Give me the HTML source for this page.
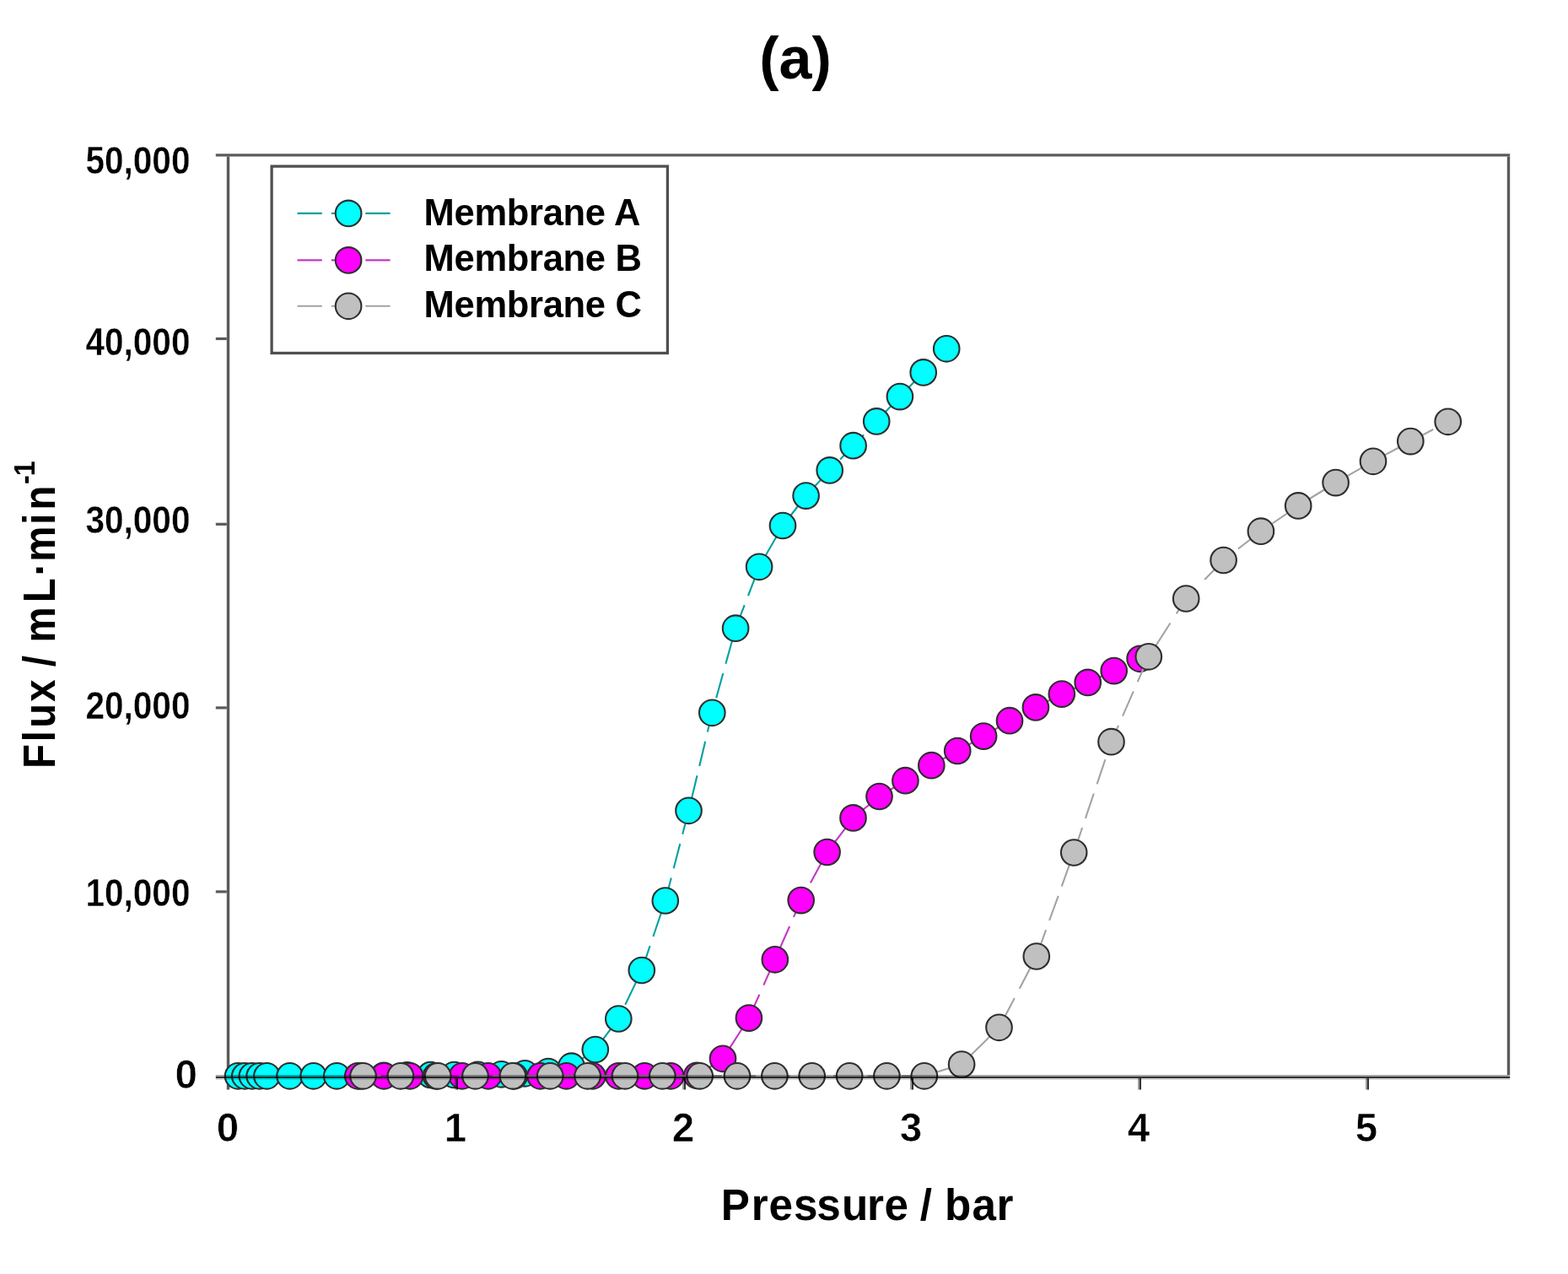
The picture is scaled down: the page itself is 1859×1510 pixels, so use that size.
<!DOCTYPE html>
<html lang="en"><head><meta charset="utf-8"><title>(a) Flux vs pressure</title>
<style>html,body{margin:0;padding:0;background:#fff;}body{width:1859px;height:1510px;overflow:hidden;}svg{display:block;}text{font-family:"Liberation Sans", sans-serif;font-weight:bold;fill:#000;}</style></head><body>
<svg width="1859" height="1510" viewBox="0 0 1859 1510" role="img" aria-label="Flux versus pressure for membranes A, B and C">
<rect x="0" y="0" width="1859" height="1510" fill="#ffffff"/>
<text x="943.1" y="93.3" font-size="70" text-anchor="middle">(a)</text>
<g id="frame" stroke="#5a5a5a" stroke-width="3.4" fill="none">
<line x1="255.8" y1="183.9" x2="1790.2" y2="183.9"/>
<line x1="270.5" y1="185.6" x2="270.5" y2="1291.6"/>
<line x1="1788.5" y1="185.6" x2="1788.5" y2="1274.0"/>
<line x1="255.8" y1="1056.9" x2="268.8" y2="1056.9" stroke-width="3.2"/>
<line x1="255.8" y1="838.9" x2="268.8" y2="838.9" stroke-width="3.2"/>
<line x1="255.8" y1="621.3" x2="268.8" y2="621.3" stroke-width="3.2"/>
<line x1="255.8" y1="401.5" x2="268.8" y2="401.5" stroke-width="3.2"/>
</g>
<g id="series-A">
<path fill="none" stroke="#00a0a0" stroke-width="2.1" d="M282.1 1275.3L290.3 1275.3M290.3 1275.3L298.9 1275.3M298.9 1275.3L303.4 1275.3M314.6 1275.3L316.4 1275.3M316.4 1275.3L343.6 1275.3M343.6 1275.3L343.8 1275.3M355.0 1275.3L371.7 1275.3M371.7 1275.3L384.2 1275.3M395.4 1275.3L399.3 1275.3M399.3 1275.3L424.6 1275.3M435.8 1275.1L455.0 1274.8M455.0 1274.8L465.0 1274.6M476.2 1274.4L482.7 1274.3M482.7 1274.3L505.4 1274.1M516.6 1274.0L538.5 1274.0M538.5 1274.0L545.8 1273.9M557.0 1273.9L566.5 1273.8M566.5 1273.8L586.2 1273.4M597.4 1273.2L622.3 1272.3M622.3 1272.3L626.6 1271.9M637.8 1271.0L650.0 1270.0M650.0 1270.0L667.0 1266.1M678.2 1263.2L705.8 1244.0M705.8 1244.0L707.0 1242.4M715.4 1231.2L733.3 1207.5M733.3 1207.5L735.9 1202.0M741.3 1190.8L755.3 1161.6M760.6 1150.4L760.8 1150.0M760.8 1150.0L770.6 1121.2M774.4 1110.0L784.3 1080.8M788.1 1069.6L788.8 1067.5M788.8 1067.5L795.8 1040.4M798.7 1029.2L806.3 1000.0M809.2 988.8L816.5 960.8M816.5 960.8L816.8 959.6M819.5 948.4L826.5 919.2M829.2 908.0L836.2 878.8M838.8 867.6L844.3 844.8M844.3 844.8L846.1 838.4M849.2 827.2L857.3 798.0M860.4 786.8L868.5 757.6M871.6 746.4L872.1 744.7M872.1 744.7L882.7 717.2M887.0 706.0L898.2 676.8M903.6 665.6L920.3 636.4M926.7 625.2L928.0 623.0M928.0 623.0L949.1 596.0M958.2 584.8L983.7 557.4M983.7 557.4L985.4 555.6M996.1 544.4L1011.6 528.2M1011.6 528.2L1024.1 515.2M1034.8 504.0L1039.2 499.4M1039.2 499.4L1062.5 474.8M1073.2 463.6L1094.7 441.4M1094.7 441.4L1101.6 434.4M1112.5 423.2L1122.2 413.3"/>
<circle cx="282.1" cy="1275.3" r="15.3" fill="#00ffff" stroke="#2e2e2e" stroke-width="2.1"/>
<circle cx="290.3" cy="1275.3" r="15.3" fill="#00ffff" stroke="#2e2e2e" stroke-width="2.1"/>
<circle cx="298.9" cy="1275.3" r="15.3" fill="#00ffff" stroke="#2e2e2e" stroke-width="2.1"/>
<circle cx="307.7" cy="1275.3" r="15.3" fill="#00ffff" stroke="#2e2e2e" stroke-width="2.1"/>
<circle cx="316.4" cy="1275.3" r="15.3" fill="#00ffff" stroke="#2e2e2e" stroke-width="2.1"/>
<circle cx="343.6" cy="1275.3" r="15.3" fill="#00ffff" stroke="#2e2e2e" stroke-width="2.1"/>
<circle cx="371.7" cy="1275.3" r="15.3" fill="#00ffff" stroke="#2e2e2e" stroke-width="2.1"/>
<circle cx="399.3" cy="1275.3" r="15.3" fill="#00ffff" stroke="#2e2e2e" stroke-width="2.1"/>
<circle cx="427.0" cy="1275.3" r="15.3" fill="#00ffff" stroke="#2e2e2e" stroke-width="2.1"/>
<circle cx="455.0" cy="1274.8" r="15.3" fill="#00ffff" stroke="#2e2e2e" stroke-width="2.1"/>
<circle cx="482.7" cy="1274.3" r="15.3" fill="#00ffff" stroke="#2e2e2e" stroke-width="2.1"/>
<circle cx="510.5" cy="1274.0" r="15.3" fill="#00ffff" stroke="#2e2e2e" stroke-width="2.1"/>
<circle cx="538.5" cy="1274.0" r="15.3" fill="#00ffff" stroke="#2e2e2e" stroke-width="2.1"/>
<circle cx="566.5" cy="1273.8" r="15.3" fill="#00ffff" stroke="#2e2e2e" stroke-width="2.1"/>
<circle cx="594.5" cy="1273.3" r="15.3" fill="#00ffff" stroke="#2e2e2e" stroke-width="2.1"/>
<circle cx="622.3" cy="1272.3" r="15.3" fill="#00ffff" stroke="#2e2e2e" stroke-width="2.1"/>
<circle cx="650.0" cy="1270.0" r="15.3" fill="#00ffff" stroke="#2e2e2e" stroke-width="2.1"/>
<circle cx="677.5" cy="1263.7" r="15.3" fill="#00ffff" stroke="#2e2e2e" stroke-width="2.1"/>
<circle cx="705.8" cy="1244.0" r="15.3" fill="#00ffff" stroke="#2e2e2e" stroke-width="2.1"/>
<circle cx="733.3" cy="1207.5" r="15.3" fill="#00ffff" stroke="#2e2e2e" stroke-width="2.1"/>
<circle cx="760.8" cy="1150.0" r="15.3" fill="#00ffff" stroke="#2e2e2e" stroke-width="2.1"/>
<circle cx="788.8" cy="1067.5" r="15.3" fill="#00ffff" stroke="#2e2e2e" stroke-width="2.1"/>
<circle cx="816.5" cy="960.8" r="15.3" fill="#00ffff" stroke="#2e2e2e" stroke-width="2.1"/>
<circle cx="844.3" cy="844.8" r="15.3" fill="#00ffff" stroke="#2e2e2e" stroke-width="2.1"/>
<circle cx="872.1" cy="744.7" r="15.3" fill="#00ffff" stroke="#2e2e2e" stroke-width="2.1"/>
<circle cx="900.1" cy="671.8" r="15.3" fill="#00ffff" stroke="#2e2e2e" stroke-width="2.1"/>
<circle cx="928.0" cy="623.0" r="15.3" fill="#00ffff" stroke="#2e2e2e" stroke-width="2.1"/>
<circle cx="955.6" cy="587.6" r="15.3" fill="#00ffff" stroke="#2e2e2e" stroke-width="2.1"/>
<circle cx="983.7" cy="557.4" r="15.3" fill="#00ffff" stroke="#2e2e2e" stroke-width="2.1"/>
<circle cx="1011.6" cy="528.2" r="15.3" fill="#00ffff" stroke="#2e2e2e" stroke-width="2.1"/>
<circle cx="1039.2" cy="499.4" r="15.3" fill="#00ffff" stroke="#2e2e2e" stroke-width="2.1"/>
<circle cx="1066.9" cy="470.1" r="15.3" fill="#00ffff" stroke="#2e2e2e" stroke-width="2.1"/>
<circle cx="1094.7" cy="441.4" r="15.3" fill="#00ffff" stroke="#2e2e2e" stroke-width="2.1"/>
<circle cx="1122.2" cy="413.3" r="15.3" fill="#00ffff" stroke="#2e2e2e" stroke-width="2.1"/>
</g>
<g id="series-B">
<path fill="none" stroke="#c437c4" stroke-width="2.1" d="M424.3 1275.3L448.2 1275.3M459.4 1275.3L486.1 1275.3M486.1 1275.3L488.6 1275.3M499.8 1275.3L517.0 1275.3M517.0 1275.3L529.0 1275.3M540.2 1275.3L547.9 1275.3M547.9 1275.3L569.4 1275.3M580.6 1275.3L609.7 1275.3M609.7 1275.3L609.8 1275.3M621.0 1275.3L640.6 1275.3M640.6 1275.3L650.2 1275.3M661.4 1275.3L671.5 1275.3M671.5 1275.3L690.6 1275.3M701.8 1275.3L702.5 1275.3M702.5 1275.3L731.0 1275.3M742.2 1275.3L764.3 1275.3M764.3 1275.3L771.4 1275.3M782.6 1275.3L795.2 1275.3M795.2 1275.3L811.8 1275.0M823.0 1274.9L826.1 1274.8M826.1 1274.8L852.2 1257.9M861.1 1248.4L879.8 1219.2M887.0 1208.0L887.9 1206.6M887.9 1206.6L900.3 1178.8M905.3 1167.6L918.3 1138.4M923.2 1127.2L936.1 1098.0M941.0 1086.8L949.7 1067.1M949.7 1067.1L954.9 1057.6M960.9 1046.4L976.7 1017.2M983.7 1006.0L1005.9 976.8M1015.3 966.3L1042.5 944.0M1042.5 944.0L1044.5 942.8M1055.7 935.9L1073.4 925.2M1073.4 925.2L1084.9 918.5M1096.1 912.0L1104.3 907.2M1104.3 907.2L1125.3 895.5M1136.5 889.3L1165.7 872.8M1176.9 866.2L1197.0 854.2M1197.0 854.2L1206.1 849.5M1217.3 843.8L1227.9 838.4M1227.9 838.4L1246.5 828.9M1257.7 823.2L1258.8 822.6M1258.8 822.6L1286.9 810.2M1298.1 805.2L1320.7 795.1M1320.7 795.1L1327.3 792.0M1338.5 786.8L1351.6 780.8"/>
<circle cx="424.3" cy="1275.3" r="15.3" fill="#ff00ff" stroke="#2e2e2e" stroke-width="2.1"/>
<circle cx="455.2" cy="1275.3" r="15.3" fill="#ff00ff" stroke="#2e2e2e" stroke-width="2.1"/>
<circle cx="486.1" cy="1275.3" r="15.3" fill="#ff00ff" stroke="#2e2e2e" stroke-width="2.1"/>
<circle cx="517.0" cy="1275.3" r="15.3" fill="#ff00ff" stroke="#2e2e2e" stroke-width="2.1"/>
<circle cx="547.9" cy="1275.3" r="15.3" fill="#ff00ff" stroke="#2e2e2e" stroke-width="2.1"/>
<circle cx="578.8" cy="1275.3" r="15.3" fill="#ff00ff" stroke="#2e2e2e" stroke-width="2.1"/>
<circle cx="609.7" cy="1275.3" r="15.3" fill="#ff00ff" stroke="#2e2e2e" stroke-width="2.1"/>
<circle cx="640.6" cy="1275.3" r="15.3" fill="#ff00ff" stroke="#2e2e2e" stroke-width="2.1"/>
<circle cx="671.5" cy="1275.3" r="15.3" fill="#ff00ff" stroke="#2e2e2e" stroke-width="2.1"/>
<circle cx="702.5" cy="1275.3" r="15.3" fill="#ff00ff" stroke="#2e2e2e" stroke-width="2.1"/>
<circle cx="733.4" cy="1275.3" r="15.3" fill="#ff00ff" stroke="#2e2e2e" stroke-width="2.1"/>
<circle cx="764.3" cy="1275.3" r="15.3" fill="#ff00ff" stroke="#2e2e2e" stroke-width="2.1"/>
<circle cx="795.2" cy="1275.3" r="15.3" fill="#ff00ff" stroke="#2e2e2e" stroke-width="2.1"/>
<circle cx="826.1" cy="1274.8" r="15.3" fill="#ff00ff" stroke="#2e2e2e" stroke-width="2.1"/>
<circle cx="857.0" cy="1254.8" r="15.3" fill="#ff00ff" stroke="#2e2e2e" stroke-width="2.1"/>
<circle cx="887.9" cy="1206.6" r="15.3" fill="#ff00ff" stroke="#2e2e2e" stroke-width="2.1"/>
<circle cx="918.8" cy="1137.3" r="15.3" fill="#ff00ff" stroke="#2e2e2e" stroke-width="2.1"/>
<circle cx="949.7" cy="1067.1" r="15.3" fill="#ff00ff" stroke="#2e2e2e" stroke-width="2.1"/>
<circle cx="980.6" cy="1010.0" r="15.3" fill="#ff00ff" stroke="#2e2e2e" stroke-width="2.1"/>
<circle cx="1011.5" cy="969.4" r="15.3" fill="#ff00ff" stroke="#2e2e2e" stroke-width="2.1"/>
<circle cx="1042.5" cy="944.0" r="15.3" fill="#ff00ff" stroke="#2e2e2e" stroke-width="2.1"/>
<circle cx="1073.4" cy="925.2" r="15.3" fill="#ff00ff" stroke="#2e2e2e" stroke-width="2.1"/>
<circle cx="1104.3" cy="907.2" r="15.3" fill="#ff00ff" stroke="#2e2e2e" stroke-width="2.1"/>
<circle cx="1135.2" cy="890.0" r="15.3" fill="#ff00ff" stroke="#2e2e2e" stroke-width="2.1"/>
<circle cx="1166.1" cy="872.6" r="15.3" fill="#ff00ff" stroke="#2e2e2e" stroke-width="2.1"/>
<circle cx="1197.0" cy="854.2" r="15.3" fill="#ff00ff" stroke="#2e2e2e" stroke-width="2.1"/>
<circle cx="1227.9" cy="838.4" r="15.3" fill="#ff00ff" stroke="#2e2e2e" stroke-width="2.1"/>
<circle cx="1258.8" cy="822.6" r="15.3" fill="#ff00ff" stroke="#2e2e2e" stroke-width="2.1"/>
<circle cx="1289.7" cy="808.9" r="15.3" fill="#ff00ff" stroke="#2e2e2e" stroke-width="2.1"/>
<circle cx="1320.7" cy="795.1" r="15.3" fill="#ff00ff" stroke="#2e2e2e" stroke-width="2.1"/>
<circle cx="1351.6" cy="780.8" r="15.3" fill="#ff00ff" stroke="#2e2e2e" stroke-width="2.1"/>
</g>
<g id="series-C">
<path fill="none" stroke="#a3a3a3" stroke-width="2.1" d="M430.5 1275.3L451.7 1275.3M462.9 1275.3L474.9 1275.3M474.9 1275.3L492.1 1275.3M503.3 1275.3L519.2 1275.3M519.2 1275.3L532.5 1275.3M543.7 1275.3L563.5 1275.3M563.5 1275.3L572.9 1275.3M584.1 1275.3L607.9 1275.3M607.9 1275.3L613.3 1275.3M624.5 1275.3L652.2 1275.3M652.2 1275.3L653.7 1275.3M664.9 1275.3L694.1 1275.3M705.3 1275.3L734.5 1275.3M745.7 1275.3L774.9 1275.3M786.1 1275.3L815.3 1275.3M826.5 1275.3L829.7 1275.3M829.7 1275.3L855.7 1275.3M866.9 1275.3L874.0 1275.3M874.0 1275.3L896.1 1275.3M907.3 1275.3L918.4 1275.3M918.4 1275.3L936.5 1275.3M947.7 1275.3L962.7 1275.3M962.7 1275.3L976.9 1275.3M988.1 1275.3L1007.1 1275.3M1007.1 1275.3L1017.3 1275.3M1028.5 1275.3L1051.4 1275.3M1051.4 1275.3L1057.7 1275.3M1068.9 1275.3L1095.8 1275.3M1095.8 1275.3L1098.1 1274.6M1109.3 1271.1L1138.5 1262.1M1149.7 1252.1L1178.9 1223.3M1187.4 1212.2L1202.8 1183.0M1208.7 1171.8L1224.0 1142.5M1229.6 1131.3L1240.1 1102.2M1244.1 1091.0L1254.7 1061.8M1258.7 1050.6L1269.2 1021.4M1273.3 1010.2L1283.1 981.0M1286.9 969.8L1296.8 940.5M1300.6 929.4L1310.4 900.2M1314.2 889.0L1317.5 879.2M1317.5 879.2L1326.0 859.8M1331.0 848.6L1343.8 819.4M1348.7 808.2L1361.6 779.0M1368.7 767.8L1387.5 738.5M1394.7 727.4L1406.2 709.5M1406.2 709.5L1417.3 698.2M1428.2 687.0L1450.6 664.0M1450.6 664.0L1456.8 659.2M1468.0 650.5L1494.9 629.7M1494.9 629.7L1497.2 628.1M1508.4 620.5L1537.6 600.5M1548.8 593.5L1578.0 575.5M1589.2 568.9L1618.4 552.2M1629.6 545.9L1658.8 530.3M1670.0 524.3L1672.3 523.1M1672.3 523.1L1699.2 509.0M1710.4 503.1L1716.7 499.8"/>
<circle cx="430.5" cy="1275.3" r="15.3" fill="#c0c0c0" stroke="#2e2e2e" stroke-width="2.1"/>
<circle cx="474.9" cy="1275.3" r="15.3" fill="#c0c0c0" stroke="#2e2e2e" stroke-width="2.1"/>
<circle cx="519.2" cy="1275.3" r="15.3" fill="#c0c0c0" stroke="#2e2e2e" stroke-width="2.1"/>
<circle cx="563.5" cy="1275.3" r="15.3" fill="#c0c0c0" stroke="#2e2e2e" stroke-width="2.1"/>
<circle cx="607.9" cy="1275.3" r="15.3" fill="#c0c0c0" stroke="#2e2e2e" stroke-width="2.1"/>
<circle cx="652.2" cy="1275.3" r="15.3" fill="#c0c0c0" stroke="#2e2e2e" stroke-width="2.1"/>
<circle cx="696.6" cy="1275.3" r="15.3" fill="#c0c0c0" stroke="#2e2e2e" stroke-width="2.1"/>
<circle cx="741.0" cy="1275.3" r="15.3" fill="#c0c0c0" stroke="#2e2e2e" stroke-width="2.1"/>
<circle cx="785.3" cy="1275.3" r="15.3" fill="#c0c0c0" stroke="#2e2e2e" stroke-width="2.1"/>
<circle cx="829.7" cy="1275.3" r="15.3" fill="#c0c0c0" stroke="#2e2e2e" stroke-width="2.1"/>
<circle cx="874.0" cy="1275.3" r="15.3" fill="#c0c0c0" stroke="#2e2e2e" stroke-width="2.1"/>
<circle cx="918.4" cy="1275.3" r="15.3" fill="#c0c0c0" stroke="#2e2e2e" stroke-width="2.1"/>
<circle cx="962.7" cy="1275.3" r="15.3" fill="#c0c0c0" stroke="#2e2e2e" stroke-width="2.1"/>
<circle cx="1007.1" cy="1275.3" r="15.3" fill="#c0c0c0" stroke="#2e2e2e" stroke-width="2.1"/>
<circle cx="1051.4" cy="1275.3" r="15.3" fill="#c0c0c0" stroke="#2e2e2e" stroke-width="2.1"/>
<circle cx="1095.8" cy="1275.3" r="15.3" fill="#c0c0c0" stroke="#2e2e2e" stroke-width="2.1"/>
<circle cx="1140.1" cy="1261.6" r="15.3" fill="#c0c0c0" stroke="#2e2e2e" stroke-width="2.1"/>
<circle cx="1184.5" cy="1217.8" r="15.3" fill="#c0c0c0" stroke="#2e2e2e" stroke-width="2.1"/>
<circle cx="1228.8" cy="1133.5" r="15.3" fill="#c0c0c0" stroke="#2e2e2e" stroke-width="2.1"/>
<circle cx="1273.2" cy="1010.5" r="15.3" fill="#c0c0c0" stroke="#2e2e2e" stroke-width="2.1"/>
<circle cx="1317.5" cy="879.2" r="15.3" fill="#c0c0c0" stroke="#2e2e2e" stroke-width="2.1"/>
<circle cx="1361.8" cy="778.3" r="15.3" fill="#c0c0c0" stroke="#2e2e2e" stroke-width="2.1"/>
<circle cx="1406.2" cy="709.5" r="15.3" fill="#c0c0c0" stroke="#2e2e2e" stroke-width="2.1"/>
<circle cx="1450.6" cy="664.0" r="15.3" fill="#c0c0c0" stroke="#2e2e2e" stroke-width="2.1"/>
<circle cx="1494.9" cy="629.7" r="15.3" fill="#c0c0c0" stroke="#2e2e2e" stroke-width="2.1"/>
<circle cx="1539.2" cy="599.4" r="15.3" fill="#c0c0c0" stroke="#2e2e2e" stroke-width="2.1"/>
<circle cx="1583.6" cy="572.1" r="15.3" fill="#c0c0c0" stroke="#2e2e2e" stroke-width="2.1"/>
<circle cx="1628.0" cy="546.8" r="15.3" fill="#c0c0c0" stroke="#2e2e2e" stroke-width="2.1"/>
<circle cx="1672.3" cy="523.1" r="15.3" fill="#c0c0c0" stroke="#2e2e2e" stroke-width="2.1"/>
<circle cx="1716.7" cy="499.8" r="15.3" fill="#c0c0c0" stroke="#2e2e2e" stroke-width="2.1"/>
</g>
<g id="axis-bottom" fill="none" stroke="#000">
<line x1="255.8" y1="1275" x2="1790.2" y2="1275" stroke-width="2" stroke-opacity="0.35"/>
<line x1="255.8" y1="1277" x2="1790.2" y2="1277" stroke-width="2" stroke-opacity="0.8"/>
<line x1="255.8" y1="1279" x2="1790.2" y2="1279" stroke-width="2" stroke-opacity="0.17"/>
<line x1="540.0" y1="1278.0" x2="540.0" y2="1291.6" stroke-width="2" stroke-opacity="0.38"/>
<line x1="542.0" y1="1278.0" x2="542.0" y2="1291.6" stroke-width="2" stroke-opacity="0.8"/>
<line x1="810.0" y1="1278.0" x2="810.0" y2="1291.6" stroke-width="2" stroke-opacity="0.38"/>
<line x1="812.0" y1="1278.0" x2="812.0" y2="1291.6" stroke-width="2" stroke-opacity="0.8"/>
<line x1="1080.0" y1="1278.0" x2="1080.0" y2="1291.6" stroke-width="2" stroke-opacity="0.38"/>
<line x1="1082.0" y1="1278.0" x2="1082.0" y2="1291.6" stroke-width="2" stroke-opacity="0.8"/>
<line x1="1350.0" y1="1278.0" x2="1350.0" y2="1291.6" stroke-width="2" stroke-opacity="0.38"/>
<line x1="1352.0" y1="1278.0" x2="1352.0" y2="1291.6" stroke-width="2" stroke-opacity="0.8"/>
<line x1="1620.0" y1="1278.0" x2="1620.0" y2="1291.6" stroke-width="2" stroke-opacity="0.38"/>
<line x1="1622.0" y1="1278.0" x2="1622.0" y2="1291.6" stroke-width="2" stroke-opacity="0.8"/>
</g>
<g id="ylabels" font-size="45.4" text-anchor="end">
<text x="233.9" y="1290.2" font-size="47.6" stroke="#ffffff" stroke-width="0.6" stroke-linejoin="round">0</text>
<text transform="translate(225.5,1074.4) scale(0.894,1)" stroke="#ffffff" stroke-width="0.4">10,000</text>
<text transform="translate(225.5,852.3) scale(0.894,1)" stroke="#ffffff" stroke-width="0.4">20,000</text>
<text transform="translate(225.5,632.2) scale(0.894,1)" stroke="#ffffff" stroke-width="0.4">30,000</text>
<text transform="translate(225.5,420.5) scale(0.894,1)" stroke="#ffffff" stroke-width="0.4">40,000</text>
<text transform="translate(225.5,206.1) scale(0.894,1)" stroke="#ffffff" stroke-width="0.4">50,000</text>
</g>
<g id="xlabels" font-size="47.6" text-anchor="middle" stroke="#ffffff" stroke-width="0.6" stroke-linejoin="round">
<text x="270.1" y="1353.1">0</text>
<text x="540.1" y="1353.1">1</text>
<text x="810.1" y="1353.1">2</text>
<text x="1080.1" y="1353.1">3</text>
<text x="1350.1" y="1353.1">4</text>
<text x="1620.1" y="1353.1">5</text>
</g>
<text transform="translate(0,1446.2) scale(0.975,1)" font-size="52.5" x="876.6 913.7 934.8 965.1 993.0 1023.6 1054.4 1075.5 1104.2 1118.8 1134.0 1148.6 1182.1 1211.9">Pressure / bar</text>
<g id="ytitle" transform="translate(65.1,908.1) rotate(-90)">
<text transform="scale(0.885,1)" font-size="53.5" x="-3.3 32.7 51.2 86.2 118.4 133.2 151.0 165.8 219.1 254.8 273.9 323.7 343.0">Flux / mL·min</text>
<text transform="translate(0,-24.3) scale(0.9,1)" font-size="36" x="371.1 382.0">-1</text>
</g>
<g id="legend">
<rect x="322.1" y="197.1" width="469.3" height="221.4" fill="#ffffff" stroke="#4f4f4f" stroke-width="3.3"/>
<line x1="352.5" y1="252.9" x2="462.6" y2="252.9" stroke="#00a0a0" stroke-width="2.1" stroke-dasharray="29.3 11.1"/>
<circle cx="413.1" cy="252.9" r="15.3" fill="#00ffff" stroke="#2e2e2e" stroke-width="2.1"/>
<text x="502.6" y="267.4" font-size="43.5" letter-spacing="-0.3">Membrane A</text>
<line x1="352.5" y1="308.4" x2="462.6" y2="308.4" stroke="#c437c4" stroke-width="2.1" stroke-dasharray="29.3 11.1"/>
<circle cx="413.1" cy="308.4" r="15.3" fill="#ff00ff" stroke="#2e2e2e" stroke-width="2.1"/>
<text x="502.6" y="321.3" font-size="43.5" letter-spacing="-0.3">Membrane B</text>
<line x1="352.5" y1="362.8" x2="462.6" y2="362.8" stroke="#a3a3a3" stroke-width="2.1" stroke-dasharray="29.3 11.1"/>
<circle cx="413.1" cy="362.8" r="15.3" fill="#c0c0c0" stroke="#2e2e2e" stroke-width="2.1"/>
<text x="502.6" y="376.3" font-size="43.5" letter-spacing="-0.3">Membrane C</text>
</g>
</svg></body></html>
